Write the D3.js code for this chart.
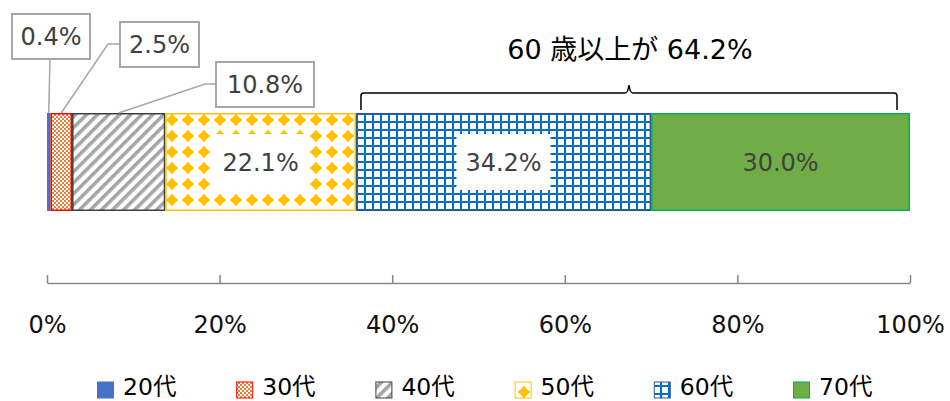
<!DOCTYPE html>
<html><head><meta charset="utf-8">
<script src="https://cdn.jsdelivr.net/npm/d3@7"></script>
<style>
html,body{margin:0;padding:0;background:#fff;}
svg{display:block;font-family:"DejaVu Sans","Noto Sans CJK JP",sans-serif;}
</style></head>
<body>
<svg id="chart" width="950" height="401"></svg>
<script>
// ---- data ----
const categories = ["20代","30代","40代","50代","60代","70代"];
const values = [0.4, 2.5, 10.8, 22.1, 34.2, 30.0];
const tickValues = [0, 20, 40, 60, 80, 100];
const titleText = "60 歳以上が 64.2%";
const braceCategories = ["60代","70代"];

// ---- styles ----
const fills = ["#4472C4","url(#p30)","url(#p40)","url(#p50)","url(#p60)","#70AD47"];
const strokes = ["#4472C4","#FF0000","#404040","#FFC000","#2F5597","#00B050"];
const outLabels = {
  "20代": {x:12, y:14, w:78, h:45, path:(ax)=>[[50,59],[ax,113]]},
  "30代": {x:120, y:22, w:79, h:45, path:(ax)=>[[120,44],[108,44],[ax,113]]},
  "40代": {x:216, y:62, w:98, h:45, path:(ax)=>[[216,84],[205,84],[ax,113]]}
};
const inBoxed = {"50代":{w:97,h:56}, "60代":{w:94,h:56}};

const svg = d3.select("#chart");
const defs = svg.append("defs");

// patterns
const p30 = defs.append("pattern").attr("id","p30").attr("patternUnits","userSpaceOnUse")
  .attr("width",4).attr("height",4);
p30.append("rect").attr("width",4).attr("height",4).attr("fill","#fff");
p30.append("rect").attr("x",0).attr("y",0).attr("width",2).attr("height",2).attr("fill","#ED7D31");
p30.append("rect").attr("x",2).attr("y",2).attr("width",2).attr("height",2).attr("fill","#ED7D31");

const p40 = defs.append("pattern").attr("id","p40").attr("patternUnits","userSpaceOnUse")
  .attr("width",7.8).attr("height",7.8).attr("patternTransform","rotate(45)");
p40.append("rect").attr("width",7.8).attr("height",7.8).attr("fill","#fff");
p40.append("rect").attr("x",0).attr("y",0).attr("width",3.6).attr("height",7.8).attr("fill","#A5A5A5");

const p50 = defs.append("pattern").attr("id","p50").attr("patternUnits","userSpaceOnUse")
  .attr("x",164).attr("y",112).attr("width",16).attr("height",16);
p50.append("rect").attr("width",16).attr("height",16).attr("fill","#fff");
p50.append("path").attr("d","M8,1.5 L10,4.5 L14.5,8 L10,11.5 L8,14.5 L6,11.5 L1.5,8 L6,4.5 Z").attr("fill","#FFC000");
p50.append("rect").attr("x",4).attr("y",4).attr("width",8).attr("height",8).attr("fill","#FFC000")
  .attr("transform","rotate(45,8,8)");

const p60 = defs.append("pattern").attr("id","p60").attr("patternUnits","userSpaceOnUse")
  .attr("x",356).attr("y",113).attr("width",8).attr("height",8);
p60.append("rect").attr("width",8).attr("height",8).attr("fill","#fff");
p60.append("rect").attr("x",0).attr("y",0).attr("width",2).attr("height",8).attr("fill","#0070C0");
p60.append("rect").attr("x",0).attr("y",0).attr("width",8).attr("height",2).attr("fill","#0070C0");

// scales
const x = d3.scaleLinear().domain([0,100]).range([47,910]);
const barTop = 113, barH = 98;

let acc = 0;
const segs = categories.map((c,i)=>{ const s={cat:c, v:values[i], x0:acc, x1:acc+values[i], i}; acc+=values[i]; return s;});

// axis
const axisY = 283;
const axis = d3.axisBottom(x).tickValues(tickValues).tickSize(-8).tickSizeOuter(0)
  .tickPadding(33).tickFormat(d=>d+"%");
const ag = svg.append("g").attr("transform",`translate(0,${axisY})`).call(axis);
ag.select(".domain").attr("stroke","#868686").attr("stroke-width",1.5);
ag.selectAll(".tick line").attr("stroke","#868686").attr("stroke-width",1.5);
ag.selectAll(".tick text").attr("font-size",24).attr("fill","#111")
  .attr("font-family",'"DejaVu Sans","Noto Sans CJK JP",sans-serif');

// bars
svg.append("g").selectAll("rect").data(segs).join("rect")
  .attr("x",d=>x(d.x0)+0.75).attr("y",barTop+0.75)
  .attr("width",d=>Math.max(0.5,x(d.x1)-x(d.x0)-1.5)).attr("height",barH-1.5)
  .attr("fill",d=>fills[d.i]).attr("stroke",d=>strokes[d.i]).attr("stroke-width",1.5);

// in-bar labels
const fs = 24;
segs.filter(d=>!outLabels[d.cat]).forEach(d=>{
  const cx = (x(d.x0)+x(d.x1))/2, cy = barTop+barH/2;
  if(inBoxed[d.cat]){
    const b = inBoxed[d.cat];
    svg.append("rect").attr("x",cx-b.w/2).attr("y",cy-b.h/2).attr("width",b.w).attr("height",b.h).attr("fill","#fff");
  }
  svg.append("text").attr("x",cx).attr("y",cy+fs*0.36).attr("text-anchor","middle")
    .attr("font-size",fs).attr("fill","#404040").text(d.v.toFixed(1)+"%");
});

// external labels
segs.filter(d=>outLabels[d.cat]).forEach(d=>{
  const L = outLabels[d.cat];
  const ax = (x(d.x0)+x(d.x1))/2;
  svg.append("path").attr("d", d3.line()(L.path(ax))).attr("fill","none")
    .attr("stroke","#A6A6A6").attr("stroke-width",1.5);
  svg.append("rect").attr("x",L.x).attr("y",L.y).attr("width",L.w).attr("height",L.h)
    .attr("fill","#fff").attr("stroke","#A6A6A6").attr("stroke-width",2);
  svg.append("text").attr("x",L.x+L.w/2).attr("y",L.y+L.h/2+fs*0.36).attr("text-anchor","middle")
    .attr("font-size",fs).attr("fill","#404040").text(d.v.toFixed(1)+"%");
});

// brace
const bSegs = segs.filter(d=>braceCategories.includes(d.cat));
const bx0 = x(bSegs[0].x0)+5, bx1 = x(bSegs[bSegs.length-1].x1)-13;
const bm = (bx0+bx1)/2, by = 93, tip = 110, pk = 85, r = 3;
const bp = d3.path();
bp.moveTo(bx0,tip); bp.lineTo(bx0,by+r); bp.quadraticCurveTo(bx0,by,bx0+r,by);
bp.lineTo(bm-4,by); bp.quadraticCurveTo(bm-1,by,bm,pk); bp.quadraticCurveTo(bm+1,by,bm+4,by);
bp.lineTo(bx1-r,by); bp.quadraticCurveTo(bx1,by,bx1,by+r); bp.lineTo(bx1,tip);
svg.append("path").attr("d",bp.toString()).attr("fill","none").attr("stroke","#000").attr("stroke-width",1.5);
svg.append("text").attr("x",bm+1).attr("y",59).attr("text-anchor","middle")
  .attr("font-size",27).attr("fill","#000").text(titleText);

// legend
const lg = svg.append("g");
categories.forEach((c,i)=>{
  const lx = 97 + i*139.2, ly = 381.5;
  lg.append("rect").attr("x",lx+0.5).attr("y",ly+0.5).attr("width",16).attr("height",16)
    .attr("fill",fills[i]).attr("stroke",strokes[i]).attr("stroke-width",1);
  lg.append("text").attr("x",lx+26).attr("y",395).attr("font-size",23.5).attr("fill","#000").text(c);
});
</script>
</body></html>
